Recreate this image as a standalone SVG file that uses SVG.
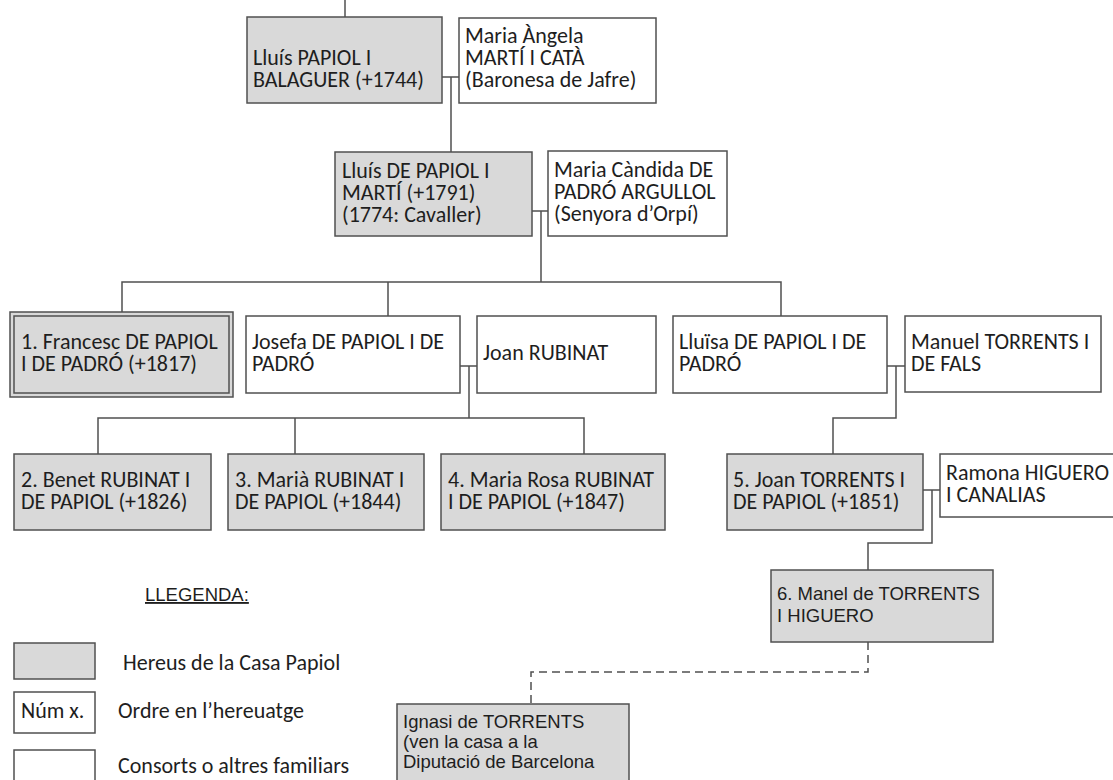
<svg xmlns="http://www.w3.org/2000/svg" width="1113" height="780" viewBox="0 0 1113 780">
<style>
.h{fill:#d9d9d9;stroke:#505050;stroke-width:1.5}
.c{fill:#ffffff;stroke:#505050;stroke-width:1.5}
.t{font-family:Carlito,Lato,"Liberation Sans",sans-serif;font-size:22px;fill:#1e1e1e}
.a{font-family:"Liberation Sans",Arial,sans-serif;font-size:18.5px;fill:#1e1e1e}
.ln{fill:none;stroke:#505050;stroke-width:1.5}
.dash{fill:none;stroke:#505050;stroke-width:1.5;stroke-dasharray:8 5}
</style>
<rect width="1113" height="780" fill="#ffffff"/>
<g id="connectors">
<path class="ln" d="M345 0V17"/>
<path class="ln" d="M442 77H459M451 77V152"/>
<path class="ln" d="M532 211H548M541 211V282"/>
<path class="ln" d="M122 312V282H781V316M388 282V316"/>
<path class="ln" d="M460 366H477M469 366V418"/>
<path class="ln" d="M98 454V418H584V454M295 418V454"/>
<path class="ln" d="M887 366H905M896 366V418H833V454"/>
<path class="ln" d="M923 490H940M932 490V543H868V570"/>
<path class="dash" d="M868 642V672H531V704"/>
</g>
<g id="n-lluis-papiol">
<rect class="h" x="247" y="17" width="195" height="86"/>
<text class="t" x="253" y="65">Lluís PAPIOL I<tspan x="253" dy="22">BALAGUER (+1744)</tspan></text>
</g>
<g id="n-maria-angela">
<rect class="c" x="459" y="18" width="197" height="85"/>
<text class="t" x="465" y="43">Maria Àngela<tspan x="465" dy="22">MARTÍ I CATÀ</tspan><tspan x="465" dy="22">(Baronesa de Jafre)</tspan></text>
</g>
<g id="n-lluis-de-papiol">
<rect class="h" x="335" y="152" width="197" height="84"/>
<text class="t" x="342" y="178">Lluís DE PAPIOL I<tspan x="342" dy="22">MARTÍ (+1791)</tspan><tspan x="342" dy="22">(1774: Cavaller)</tspan></text>
</g>
<g id="n-maria-candida">
<rect class="c" x="548" y="151" width="179" height="85"/>
<text class="t" x="554" y="177">Maria Càndida DE<tspan x="554" dy="22">PADRÓ ARGULLOL</tspan><tspan x="554" dy="22">(Senyora d’Orpí)</tspan></text>
</g>
<g id="n-francesc">
<rect class="h" x="10" y="312" width="223" height="85"/>
<rect class="h" x="14" y="316" width="215" height="77"/>
<text class="t" x="21" y="349">1. Francesc DE PAPIOL<tspan x="21" dy="22">I DE PADRÓ (+1817)</tspan></text>
</g>
<g id="n-josefa">
<rect class="c" x="246" y="316" width="214" height="77"/>
<text class="t" x="252" y="349">Josefa DE PAPIOL I DE<tspan x="252" dy="22">PADRÓ</tspan></text>
</g>
<g id="n-joan-rubinat">
<rect class="c" x="477" y="316" width="179" height="77"/>
<text class="t" x="483" y="360">Joan RUBINAT</text>
</g>
<g id="n-lluisa">
<rect class="c" x="673" y="316" width="214" height="77"/>
<text class="t" x="679" y="349">Lluïsa DE PAPIOL I DE<tspan x="679" dy="22">PADRÓ</tspan></text>
</g>
<g id="n-manuel">
<rect class="c" x="905" y="316" width="196" height="76"/>
<text class="t" x="911" y="349">Manuel TORRENTS I<tspan x="911" dy="22">DE FALS</tspan></text>
</g>
<g id="n-benet">
<rect class="h" x="14" y="454" width="197" height="76"/>
<text class="t" x="21" y="487">2. Benet RUBINAT I<tspan x="21" dy="22">DE PAPIOL (+1826)</tspan></text>
</g>
<g id="n-maria">
<rect class="h" x="228" y="454" width="196" height="76"/>
<text class="t" x="235" y="487">3. Marià RUBINAT I<tspan x="235" dy="22">DE PAPIOL (+1844)</tspan></text>
</g>
<g id="n-maria-rosa">
<rect class="h" x="441" y="454" width="224" height="76"/>
<text class="t" x="448" y="487">4. Maria Rosa RUBINAT<tspan x="448" dy="22">I DE PAPIOL (+1847)</tspan></text>
</g>
<g id="n-joan-torrents">
<rect class="h" x="727" y="454" width="196" height="76"/>
<text class="t" x="733" y="487">5. Joan TORRENTS I<tspan x="733" dy="22">DE PAPIOL (+1851)</tspan></text>
</g>
<g id="n-ramona">
<rect class="c" x="940" y="454" width="176" height="63"/>
<text class="t" x="946" y="480">Ramona HIGUERO<tspan x="946" dy="22">I CANALIAS</tspan></text>
</g>
<g id="n-manel">
<rect class="h" x="771" y="570" width="222" height="72"/>
<text class="a" x="777" y="600">6. Manel de TORRENTS<tspan x="777" dy="22">I HIGUERO</tspan></text>
</g>
<g id="n-ignasi">
<rect class="h" x="397" y="704" width="232" height="90"/>
<text class="a" x="403" y="728">Ignasi de TORRENTS<tspan x="403" dy="20">(ven la casa a la</tspan><tspan x="403" dy="20">Diputació de Barcelona</tspan></text>
</g>
<g id="legend">
<text class="a" x="145" y="601" font-size="18" fill="#333" text-decoration="underline">LLEGENDA:</text>
<rect class="h" x="14" y="643" width="81" height="36"/>
<text class="t" x="123" y="670">Hereus de la Casa Papiol</text>
<rect class="c" x="14" y="692" width="81" height="41"/>
<text class="t" x="21" y="718">Núm x.</text>
<text class="t" x="118" y="718">Ordre en l’hereuatge</text>
<rect class="c" x="14" y="750" width="81" height="40"/>
<text class="t" x="118" y="773">Consorts o altres familiars</text>
</g>
</svg>
